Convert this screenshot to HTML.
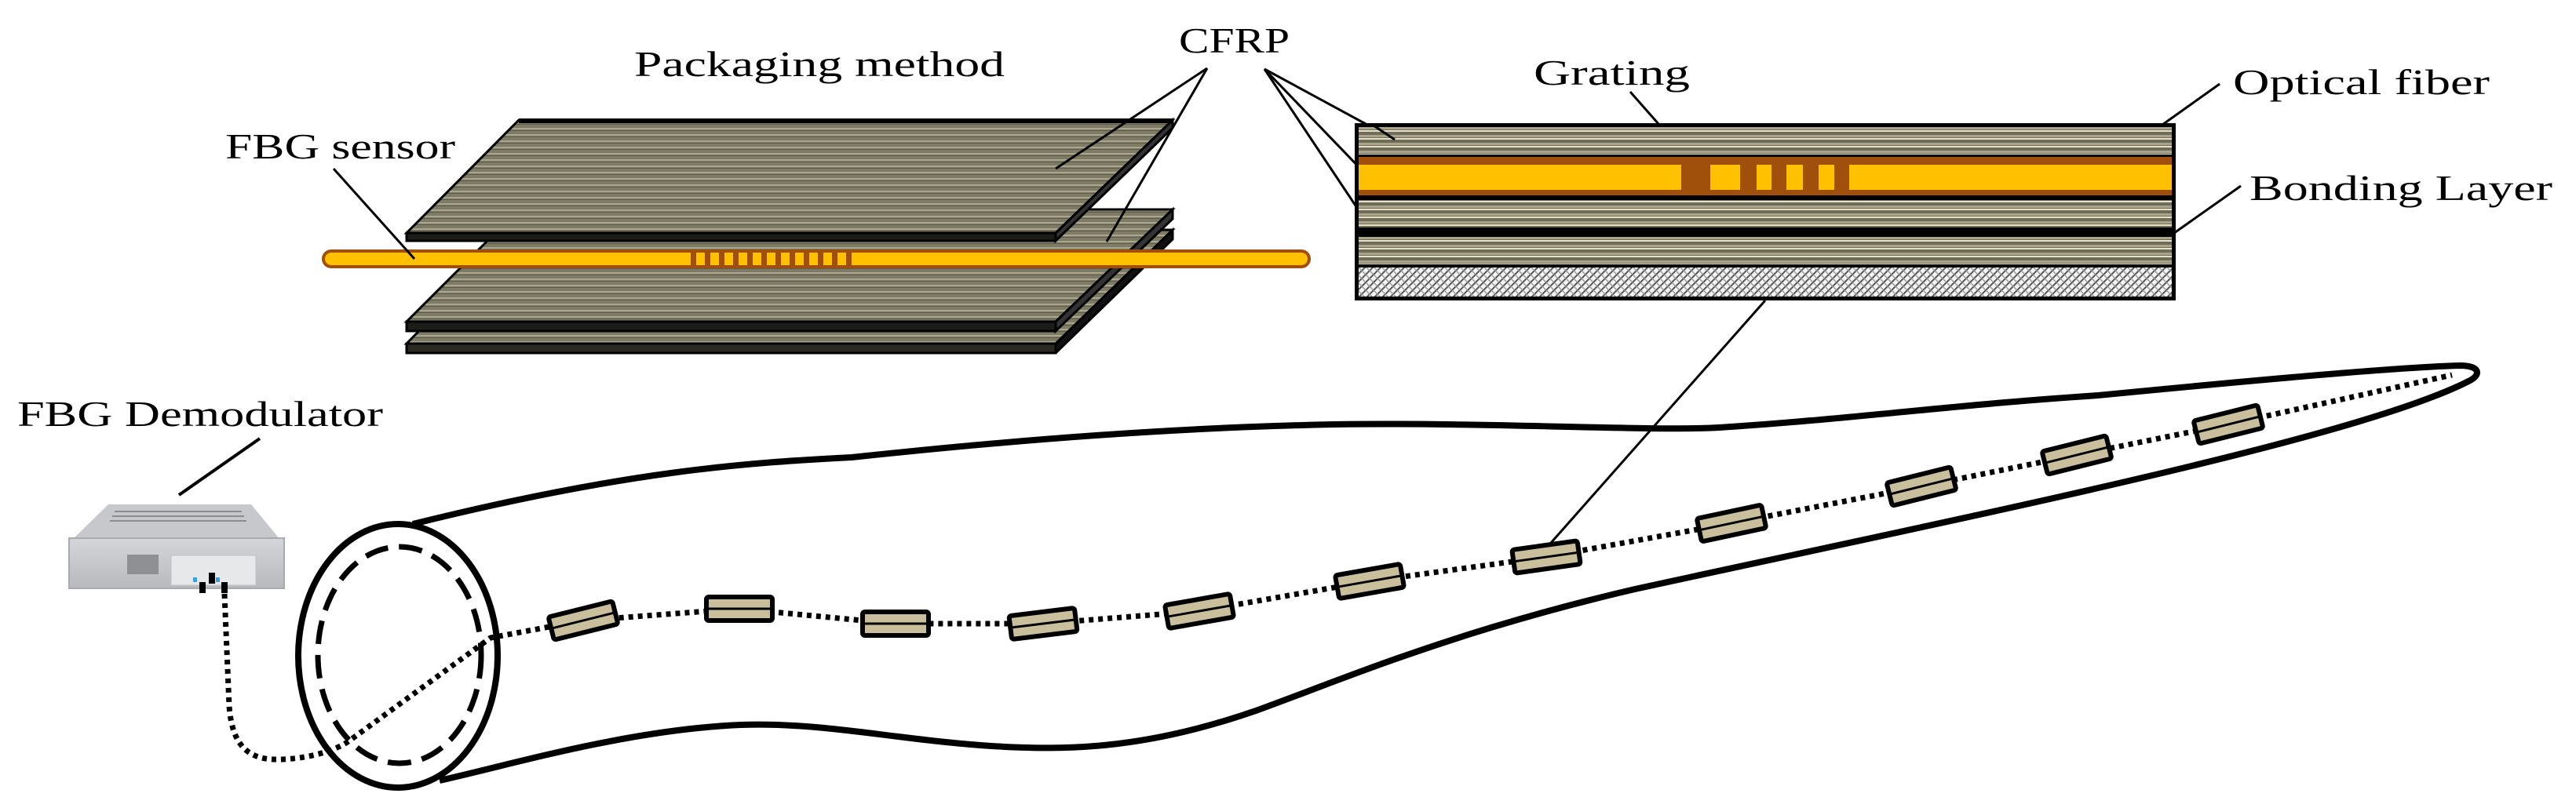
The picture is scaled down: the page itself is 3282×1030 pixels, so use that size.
<!DOCTYPE html>
<html><head><meta charset="utf-8"><style>
html,body{margin:0;padding:0;background:#fff}
svg{display:block}
text{font-family:"Liberation Serif",serif;font-size:46px;fill:#000}
</style></head><body>
<svg width="3282" height="1030" viewBox="0 0 3282 1030" xmlns="http://www.w3.org/2000/svg">
<defs>
<pattern id="cf" width="20" height="10" patternUnits="userSpaceOnUse">
<rect width="20" height="10" fill="#6f6c57"/>
<rect y="2" width="20" height="3" fill="#a9a48a"/>
<rect y="6" width="20" height="2" fill="#e6e1c8"/>
</pattern>
<pattern id="cfp" width="20" height="8" patternUnits="userSpaceOnUse">
<rect width="20" height="8" fill="#7d7a66"/>
<rect y="3" width="20" height="2" fill="#aaa58c"/>
<rect y="6" width="20" height="1" fill="#5f5c4c"/>
</pattern>
<pattern id="hatch" width="10" height="10" patternUnits="userSpaceOnUse">
<rect width="10" height="10" fill="#f4f4f4"/>
<path d="M0 10 L10 0 M-2 2 L2 -2 M8 12 L12 8" stroke="#555" stroke-width="2"/>
<path d="M0 0 L10 10" stroke="#999" stroke-width="1.5"/>
</pattern>
<linearGradient id="dm" x1="0" y1="0" x2="0" y2="1"><stop offset="0" stop-color="#d4d6da"/><stop offset="1" stop-color="#b7b9bd"/></linearGradient>
</defs>

<!-- labels -->
<text x="808" y="97" textLength="472" lengthAdjust="spacingAndGlyphs">Packaging method</text>
<text x="1502" y="67" textLength="141" lengthAdjust="spacingAndGlyphs">CFRP</text>
<text x="287" y="202" textLength="293" lengthAdjust="spacingAndGlyphs">FBG sensor</text>
<text x="1954" y="108" textLength="199" lengthAdjust="spacingAndGlyphs">Grating</text>
<text x="2845" y="120" textLength="327" lengthAdjust="spacingAndGlyphs">Optical fiber</text>
<text x="2866" y="255" textLength="386" lengthAdjust="spacingAndGlyphs">Bonding Layer</text>
<text x="22" y="543" textLength="466" lengthAdjust="spacingAndGlyphs">FBG Demodulator</text>

<!-- plates lower stack -->
<g stroke="#000" stroke-width="3">
<polygon points="518,438 1345,438 1494,293 1494,305 1345,450 518,450" fill="#111"/>
<polygon points="661,293 1494,293 1345,438 518,438" fill="url(#cfp)"/>
<rect x="518" y="438" width="827" height="12" fill="#2a2a22"/>
<polygon points="661,267 1494,267 1345,410 518,410" fill="url(#cfp)"/>
<rect x="518" y="410" width="827" height="12" fill="#1d1d18"/>
<polygon points="1345,410 1494,267 1494,279 1345,422" fill="#333"/>
</g>
<!-- fiber -->
<rect x="412" y="320" width="1256" height="20" rx="10" fill="#ffc000" stroke="#a0500a" stroke-width="4"/>
<g fill="#a0500a">
<rect x="880" y="321" width="7" height="18"/><rect x="898" y="321" width="7" height="18"/><rect x="916" y="321" width="7" height="18"/><rect x="934" y="321" width="7" height="18"/><rect x="952" y="321" width="7" height="18"/><rect x="970" y="321" width="7" height="18"/><rect x="988" y="321" width="7" height="18"/><rect x="1006" y="321" width="7" height="18"/><rect x="1024" y="321" width="7" height="18"/><rect x="1042" y="321" width="7" height="18"/><rect x="1060" y="321" width="7" height="18"/><rect x="1078" y="321" width="7" height="18"/>
</g>
<!-- top plate -->
<g stroke="#000" stroke-width="3">
<polygon points="661,153 1494,153 1345,297 518,297" fill="url(#cfp)"/>
<rect x="518" y="297" width="827" height="10" fill="#1d1d18"/>
<polygon points="1345,297 1494,153 1494,163 1345,307" fill="#333"/>
</g>
<rect x="661" y="151" width="833" height="6" fill="#000"/>

<!-- leader lines -->
<g stroke="#000" stroke-width="3" fill="none">
<line x1="425" y1="215" x2="528" y2="330"/>
<line x1="1538" y1="87" x2="1345" y2="215"/>
<line x1="1538" y1="87" x2="1410" y2="308"/>
<line x1="1611" y1="88" x2="1777" y2="178"/>
<line x1="1611" y1="88" x2="1791" y2="275"/>
<line x1="1611" y1="88" x2="1777" y2="337"/>
<line x1="2077" y1="117" x2="2179" y2="233"/>
<line x1="2828" y1="107" x2="2651" y2="233"/>
<line x1="2855" y1="237" x2="2678" y2="362"/>
<line x1="2249" y1="383" x2="1976" y2="692"/>
<line x1="331" y1="559" x2="228" y2="631" stroke-width="4"/>
</g>

<!-- cross-section -->
<rect x="1726" y="157" width="1046" height="226" fill="#000"/>
<rect x="1731" y="162" width="1036" height="35" fill="url(#cf)"/>
<rect x="1731" y="200" width="1036" height="49" fill="#a0500a"/>
<rect x="1731" y="210" width="1036" height="32" fill="#ffc000"/>
<g fill="#a0500a">
<rect x="2142" y="200" width="37" height="49"/><rect x="2217" y="200" width="21" height="49"/><rect x="2257" y="200" width="19" height="49"/><rect x="2297" y="200" width="20" height="49"/><rect x="2337" y="200" width="19" height="49"/>
</g>
<g fill="#ffc000">
<rect x="2179" y="210" width="6" height="32"/><rect x="2238" y="210" width="6" height="32"/><rect x="2276" y="210" width="6" height="32"/><rect x="2317" y="210" width="6" height="32"/>
</g>
<rect x="1731" y="255" width="1036" height="35" fill="url(#cf)"/>
<rect x="1731" y="302" width="1036" height="35" fill="url(#cf)"/>
<rect x="1731" y="341" width="1036" height="37" fill="url(#hatch)"/>
<g stroke="#000" stroke-width="3">
<line x1="1777" y1="178" x2="1750" y2="160"/>
</g>

<!-- blade outline -->
<path d="M526,668 C800,600 950,590 1085,583 C1300,560 1500,545 1700,541 C1900,538 2100,550 2190,545 C2350,535 2500,515 2673,504 C2900,482 3060,468 3134,466 C3160,466 3162,478 3145,486 C3000,560 2500,660 2083,751 C1850,805 1700,870 1600,906 C1450,958 1350,955 1280,952 C1150,945 1050,920 944,924 C800,930 650,975 560,995"
 fill="none" stroke="#000" stroke-width="8" stroke-linejoin="round"/>
<!-- root ellipses -->
<ellipse cx="507" cy="836" rx="127" ry="168" fill="#fff" stroke="#000" stroke-width="8"/>
<ellipse cx="509" cy="835" rx="104" ry="138" fill="none" stroke="#000" stroke-width="7" stroke-dasharray="30 14"/>

<!-- dotted fiber -->
<path d="M286,757 L292,900 C296,955 320,970 360,968 C400,966 430,955 444,945 L625,813 L743,791 L942,776 L1141,795 L1329,795 L1528,779 L1745,741 L1970,710 L2206,667 L2448,620 L2646,580 L2839,541 L3124,478"
 fill="none" stroke="#000" stroke-width="7" stroke-dasharray="6 6"/>

<!-- sensors -->
<g stroke="#000" stroke-width="6">
<g transform="translate(743,791) rotate(-14)"><rect x="-42" y="-15" width="84" height="30" rx="3" fill="#c9bf9d"/><line x1="-40" y1="0" x2="40" y2="0" stroke-width="3"/></g>
<g transform="translate(942,776)"><rect x="-42" y="-15" width="84" height="30" rx="3" fill="#c9bf9d"/><line x1="-40" y1="0" x2="40" y2="0" stroke-width="3"/></g>
<g transform="translate(1141,795)"><rect x="-42" y="-15" width="84" height="30" rx="3" fill="#c9bf9d"/><line x1="-40" y1="0" x2="40" y2="0" stroke-width="3"/></g>
<g transform="translate(1329,795) rotate(-7)"><rect x="-42" y="-15" width="84" height="30" rx="3" fill="#c9bf9d"/><line x1="-40" y1="0" x2="40" y2="0" stroke-width="3"/></g>
<g transform="translate(1528,779) rotate(-10)"><rect x="-42" y="-15" width="84" height="30" rx="3" fill="#c9bf9d"/><line x1="-40" y1="0" x2="40" y2="0" stroke-width="3"/></g>
<g transform="translate(1745,741) rotate(-10)"><rect x="-42" y="-15" width="84" height="30" rx="3" fill="#c9bf9d"/><line x1="-40" y1="0" x2="40" y2="0" stroke-width="3"/></g>
<g transform="translate(1970,710) rotate(-8)"><rect x="-42" y="-15" width="84" height="30" rx="3" fill="#c9bf9d"/><line x1="-40" y1="0" x2="40" y2="0" stroke-width="3"/></g>
<g transform="translate(2206,667) rotate(-12)"><rect x="-42" y="-15" width="84" height="30" rx="3" fill="#c9bf9d"/><line x1="-40" y1="0" x2="40" y2="0" stroke-width="3"/></g>
<g transform="translate(2448,620) rotate(-14)"><rect x="-42" y="-15" width="84" height="30" rx="3" fill="#c9bf9d"/><line x1="-40" y1="0" x2="40" y2="0" stroke-width="3"/></g>
<g transform="translate(2646,580) rotate(-14)"><rect x="-42" y="-15" width="84" height="30" rx="3" fill="#c9bf9d"/><line x1="-40" y1="0" x2="40" y2="0" stroke-width="3"/></g>
<g transform="translate(2839,541) rotate(-14)"><rect x="-42" y="-15" width="84" height="30" rx="3" fill="#c9bf9d"/><line x1="-40" y1="0" x2="40" y2="0" stroke-width="3"/></g>
</g>

<!-- demodulator -->
<polygon points="138,643 320,643 357,688 92,688" fill="#c6c8cc"/>
<g stroke="#8a8c90" stroke-width="2">
<line x1="146" y1="652" x2="308" y2="652"/><line x1="143" y1="658" x2="311" y2="658"/><line x1="140" y1="664" x2="314" y2="664"/>
</g>
<rect x="88" y="686" width="274" height="64" fill="url(#dm)" stroke="#a8aaae" stroke-width="2"/>
<rect x="162" y="707" width="40" height="25" fill="#8e9094"/>
<rect x="218" y="708" width="108" height="38" fill="#e6e8ea" stroke="#c0c2c6"/>
<rect x="266" y="730" width="8" height="14" fill="#000"/>
<rect x="254" y="742" width="8" height="14" fill="#000"/>
<rect x="282" y="742" width="8" height="14" fill="#000"/>
<rect x="246" y="736" width="5" height="6" fill="#3aa0e0"/>
<rect x="275" y="736" width="5" height="6" fill="#3aa0e0"/>
</svg>
</body></html>
